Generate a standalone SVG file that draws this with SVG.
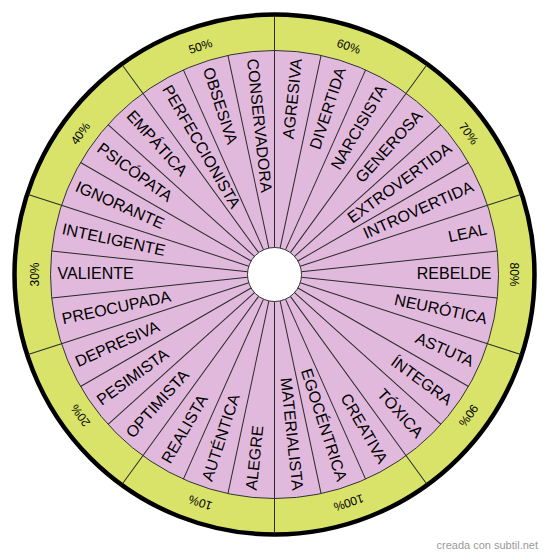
<svg xmlns="http://www.w3.org/2000/svg" width="550" height="558" viewBox="0 0 550 558">
<style>
.ring{fill:#d9e36a;stroke:#000;stroke-width:4.5}
.pink{fill:#e1b9dc;stroke:#333;stroke-width:1}
.hub{fill:#fff;stroke:#333;stroke-width:1}
.sep line{stroke:#2a2a2a;stroke-width:1}
.lbl{font-family:"Liberation Sans",Arial,sans-serif;font-size:16px;fill:#000}
.pct{font-family:"Liberation Sans",Arial,sans-serif;font-size:12px;fill:#000;text-anchor:middle}
.foot{font-family:"Liberation Sans",Arial,sans-serif;font-size:11px;fill:#9a9a9a}
</style>
<rect width="550" height="558" fill="#fff"/>
<g transform="translate(274.5 274.5)">
<circle class="ring" r="260"/>
<circle class="pink" r="224"/>
<g id="connectors" class="sep">
<line y1="-224" y2="-259" transform="rotate(0)"/>
<line y1="-224" y2="-259" transform="rotate(36)"/>
<line y1="-224" y2="-259" transform="rotate(72)"/>
<line y1="-224" y2="-259" transform="rotate(108)"/>
<line y1="-224" y2="-259" transform="rotate(144)"/>
<line y1="-224" y2="-259" transform="rotate(180)"/>
<line y1="-224" y2="-259" transform="rotate(216)"/>
<line y1="-224" y2="-259" transform="rotate(252)"/>
<line y1="-224" y2="-259" transform="rotate(288)"/>
<line y1="-224" y2="-259" transform="rotate(324)"/>
<line y1="-27" y2="-224" transform="rotate(0)"/>
<line y1="-27" y2="-224" transform="rotate(12)"/>
<line y1="-27" y2="-224" transform="rotate(24)"/>
<line y1="-27" y2="-224" transform="rotate(36)"/>
<line y1="-27" y2="-224" transform="rotate(48)"/>
<line y1="-27" y2="-224" transform="rotate(60)"/>
<line y1="-27" y2="-224" transform="rotate(72)"/>
<line y1="-27" y2="-224" transform="rotate(84)"/>
<line y1="-27" y2="-224" transform="rotate(96)"/>
<line y1="-27" y2="-224" transform="rotate(108)"/>
<line y1="-27" y2="-224" transform="rotate(120)"/>
<line y1="-27" y2="-224" transform="rotate(132)"/>
<line y1="-27" y2="-224" transform="rotate(144)"/>
<line y1="-27" y2="-224" transform="rotate(156)"/>
<line y1="-27" y2="-224" transform="rotate(168)"/>
<line y1="-27" y2="-224" transform="rotate(180)"/>
<line y1="-27" y2="-224" transform="rotate(192)"/>
<line y1="-27" y2="-224" transform="rotate(204)"/>
<line y1="-27" y2="-224" transform="rotate(216)"/>
<line y1="-27" y2="-224" transform="rotate(228)"/>
<line y1="-27" y2="-224" transform="rotate(240)"/>
<line y1="-27" y2="-224" transform="rotate(252)"/>
<line y1="-27" y2="-224" transform="rotate(264)"/>
<line y1="-27" y2="-224" transform="rotate(276)"/>
<line y1="-27" y2="-224" transform="rotate(288)"/>
<line y1="-27" y2="-224" transform="rotate(300)"/>
<line y1="-27" y2="-224" transform="rotate(312)"/>
<line y1="-27" y2="-224" transform="rotate(324)"/>
<line y1="-27" y2="-224" transform="rotate(336)"/>
<line y1="-27" y2="-224" transform="rotate(348)"/>
</g>
<circle id="hub" class="hub" r="27"/>
<g id="pct-60"><text class="pct" transform="rotate(18)" y="-240" dy=".35em">60%</text></g>
<g id="pct-70"><text class="pct" transform="rotate(54)" y="-240" dy=".35em">70%</text></g>
<g id="pct-80"><text class="pct" transform="rotate(90)" y="-240" dy=".35em">80%</text></g>
<g id="pct-90"><text class="pct" transform="rotate(126)" y="-240" dy=".35em">90%</text></g>
<g id="pct-100"><text class="pct" transform="rotate(162)" y="-240" dy=".35em">100%</text></g>
<g id="pct-10"><text class="pct" transform="rotate(198)" y="-240" dy=".35em">10%</text></g>
<g id="pct-20"><text class="pct" transform="rotate(234)" y="-240" dy=".35em">20%</text></g>
<g id="pct-30"><text class="pct" transform="rotate(270)" y="-240" dy=".35em">30%</text></g>
<g id="pct-40"><text class="pct" transform="rotate(306)" y="-240" dy=".35em">40%</text></g>
<g id="pct-50"><text class="pct" transform="rotate(342)" y="-240" dy=".35em">50%</text></g>
<g id="agresiva"><text class="lbl" transform="rotate(-84)" x="217" dy=".3em" text-anchor="end">AGRESIVA</text></g>
<g id="divertida"><text class="lbl" transform="rotate(-72)" x="217" dy=".3em" text-anchor="end">DIVERTIDA</text></g>
<g id="narcisista"><text class="lbl" transform="rotate(-60)" x="217" dy=".3em" text-anchor="end">NARCISISTA</text></g>
<g id="generosa"><text class="lbl" transform="rotate(-48)" x="217" dy=".3em" text-anchor="end">GENEROSA</text></g>
<g id="extrovertida"><text class="lbl" transform="rotate(-36)" x="217" dy=".3em" text-anchor="end">EXTROVERTIDA</text></g>
<g id="introvertida"><text class="lbl" transform="rotate(-24)" x="217" dy=".3em" text-anchor="end">INTROVERTIDA</text></g>
<g id="leal"><text class="lbl" transform="rotate(-12)" x="217" dy=".3em" text-anchor="end">LEAL</text></g>
<g id="rebelde"><text class="lbl" transform="rotate(0)" x="217" dy=".3em" text-anchor="end">REBELDE</text></g>
<g id="neurotica"><text class="lbl" transform="rotate(12)" x="217" dy=".3em" text-anchor="end">NEURÓTICA</text></g>
<g id="astuta"><text class="lbl" transform="rotate(24)" x="217" dy=".3em" text-anchor="end">ASTUTA</text></g>
<g id="integra"><text class="lbl" transform="rotate(36)" x="217" dy=".3em" text-anchor="end">ÍNTEGRA</text></g>
<g id="toxica"><text class="lbl" transform="rotate(48)" x="217" dy=".3em" text-anchor="end">TÓXICA</text></g>
<g id="creativa"><text class="lbl" transform="rotate(60)" x="217" dy=".3em" text-anchor="end">CREATIVA</text></g>
<g id="egocentrica"><text class="lbl" transform="rotate(72)" x="217" dy=".3em" text-anchor="end">EGOCÉNTRICA</text></g>
<g id="materialista"><text class="lbl" transform="rotate(84)" x="217" dy=".3em" text-anchor="end">MATERIALISTA</text></g>
<g id="alegre"><text class="lbl" transform="rotate(276)" x="-217" dy=".3em">ALEGRE</text></g>
<g id="autentica"><text class="lbl" transform="rotate(288)" x="-217" dy=".3em">AUTÉNTICA</text></g>
<g id="realista"><text class="lbl" transform="rotate(300)" x="-217" dy=".3em">REALISTA</text></g>
<g id="optimista"><text class="lbl" transform="rotate(312)" x="-217" dy=".3em">OPTIMISTA</text></g>
<g id="pesimista"><text class="lbl" transform="rotate(324)" x="-217" dy=".3em">PESIMISTA</text></g>
<g id="depresiva"><text class="lbl" transform="rotate(336)" x="-217" dy=".3em">DEPRESIVA</text></g>
<g id="preocupada"><text class="lbl" transform="rotate(348)" x="-217" dy=".3em">PREOCUPADA</text></g>
<g id="valiente"><text class="lbl" transform="rotate(0)" x="-217" dy=".3em">VALIENTE</text></g>
<g id="inteligente"><text class="lbl" transform="rotate(12)" x="-217" dy=".3em">INTELIGENTE</text></g>
<g id="ignorante"><text class="lbl" transform="rotate(24)" x="-217" dy=".3em">IGNORANTE</text></g>
<g id="psicopata"><text class="lbl" transform="rotate(36)" x="-217" dy=".3em">PSICÓPATA</text></g>
<g id="empatica"><text class="lbl" transform="rotate(48)" x="-217" dy=".3em">EMPÁTICA</text></g>
<g id="perfeccionista"><text class="lbl" transform="rotate(60)" x="-217" dy=".3em">PERFECCIONISTA</text></g>
<g id="obsesiva"><text class="lbl" transform="rotate(72)" x="-217" dy=".3em">OBSESIVA</text></g>
<g id="conservadora"><text class="lbl" transform="rotate(84)" x="-217" dy=".3em">CONSERVADORA</text></g>
</g>
<text class="foot" x="538" y="549" text-anchor="end">creada con subtil.net</text>
</svg>
